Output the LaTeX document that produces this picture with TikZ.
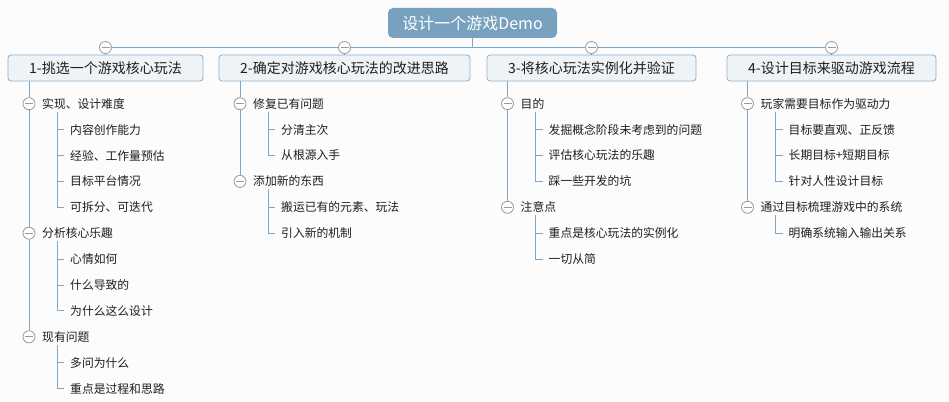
\documentclass[tikz,border=0pt]{standalone}
\usepackage{fontspec}
\newfontfamily\cjk{Noto Sans CJK SC}
\usetikzlibrary{calc}
\definecolor{bgc}{HTML}{FCFCFC}
\definecolor{rootc}{HTML}{78A1C0}
\definecolor{boxf}{HTML}{EEF3F8}
\definecolor{boxd}{HTML}{8EAFCB}
\definecolor{linec}{HTML}{7EA7C8}
\definecolor{btnc}{HTML}{9A9A9A}
\definecolor{txt}{HTML}{1E1E1E}
\newcommand\mmtick[1]{\draw[conn] ([xshift=-13]#1.west) -- ([xshift=-6]#1.west);}
\begin{document}
\begin{tikzpicture}[x=1pt,y=-1pt,
  conn/.style={draw=linec, line width=0.9pt},
  rootbox/.style={fill=rootc, rounded corners=5pt, minimum width=169, minimum height=30, inner sep=0, text=white, font=\cjk\fontsize{16}{18}\selectfont},
  topic/.style={fill=boxf, draw=boxd, line width=0.8pt, rounded corners=3pt, minimum height=26, inner sep=0, text=txt, font=\cjk\fontsize{14}{16}\selectfont},
  btn/.style={circle, draw=btnc, fill=white, line width=0.8pt, minimum size=12, inner sep=0,
    path picture={\draw[btnc, line width=0.8pt] ([xshift=-4]path picture bounding box.center) -- ([xshift=4]path picture bounding box.center);}},
  lvl/.style={anchor=west, inner sep=0, text=txt, font=\cjk\fontsize{11.8}{14}\selectfont},
  leaf/.style={anchor=west, inner sep=0, text=txt, font=\cjk\fontsize{11.8}{14}\selectfont}]
\useasboundingbox (0,0) rectangle (949,401);
\fill[bgc] (0,0) rectangle (949,401);

% root and main topics
\node[rootbox] (root) at (472.5,23) {设计一个游戏Demo};
\node[topic, minimum width=195] (b1) at (105.5,68) {1-挑选一个游戏核心玩法};
\node[topic, minimum width=251] (b2) at (344.5,68) {2-确定对游戏核心玩法的改进思路};
\node[topic, minimum width=209] (b3) at (591.5,68) {3-将核心玩法实例化并验证};
\node[topic, minimum width=209] (b4) at (831.5,68) {4-设计目标来驱动游戏流程};

\node[btn] (k1) at (105.5,47.5) {};
\node[btn] (k2) at (344.5,47.5) {};
\node[btn] (k3) at (591.5,47.5) {};
\node[btn] (k4) at (831.5,47.5) {};

\draw[conn] (root.south) -- (root.south |- k1);
\draw[conn] (k1.east) -- (k2.west);
\draw[conn] (k2.east) -- (k3.west);
\draw[conn] (k3.east) -- (k4.west);
\draw[conn] (k1.south) -- (b1.north);
\draw[conn] (k2.south) -- (b2.north);
\draw[conn] (k3.south) -- (b3.north);
\draw[conn] (k4.south) -- (b4.north);

% ---------- column 1
\node[btn] (m1a) at (29,103.7) {};
\node[lvl] (t1a) at (42,103.7) {实现、设计难度};
\node[leaf] (l1a1) at (70,129.6) {内容创作能力};
\node[leaf] (l1a2) at (70,155.5) {经验、工作量预估};
\node[leaf] (l1a3) at (70,181.4) {目标平台情况};
\node[leaf] (l1a4) at (70,207.3) {可拆分、可迭代};
\node[btn] (m1b) at (29,233.2) {};
\node[lvl] (t1b) at (42,233.2) {分析核心乐趣};
\node[leaf] (l1b1) at (70,259.1) {心情如何};
\node[leaf] (l1b2) at (70,285.0) {什么导致的};
\node[leaf] (l1b3) at (70,310.9) {为什么这么设计};
\node[btn] (m1c) at (29,336.8) {};
\node[lvl] (t1c) at (42,336.8) {现有问题};
\node[leaf] (l1c1) at (70,362.7) {多问为什么};
\node[leaf] (l1c2) at (70,388.6) {重点是过程和思路};

\draw[conn] (b1.south -| m1a) -- (m1a.north);
\draw[conn] (m1a.south) -- (m1b.north);
\draw[conn] (m1b.south) -- (m1c.north);
\draw[conn] ($(m1a)+(28,8)$) |- ([xshift=-6]l1a4.west);
\mmtick{l1a1}\mmtick{l1a2}\mmtick{l1a3}
\draw[conn] ($(m1b)+(28,8)$) |- ([xshift=-6]l1b3.west);
\mmtick{l1b1}\mmtick{l1b2}
\draw[conn] ($(m1c)+(28,8)$) |- ([xshift=-6]l1c2.west);
\mmtick{l1c1}

% ---------- column 2
\node[btn] (m2a) at (240,103.7) {};
\node[lvl] (t2a) at (253,103.7) {修复已有问题};
\node[leaf] (l2a1) at (281,129.6) {分清主次};
\node[leaf] (l2a2) at (281,155.5) {从根源入手};
\node[btn] (m2b) at (240,181.4) {};
\node[lvl] (t2b) at (253,181.4) {添加新的东西};
\node[leaf] (l2b1) at (281,207.3) {搬运已有的元素、玩法};
\node[leaf] (l2b2) at (281,233.2) {引入新的机制};

\draw[conn] (b2.south -| m2a) -- (m2a.north);
\draw[conn] (m2a.south) -- (m2b.north);
\draw[conn] ($(m2a)+(28,8)$) |- ([xshift=-6]l2a2.west);
\mmtick{l2a1}
\draw[conn] ($(m2b)+(28,8)$) |- ([xshift=-6]l2b2.west);
\mmtick{l2b1}

% ---------- column 3
\node[btn] (m3a) at (507.5,103.7) {};
\node[lvl] (t3a) at (520.5,103.7) {目的};
\node[leaf] (l3a1) at (548.5,129.6) {发掘概念阶段未考虑到的问题};
\node[leaf] (l3a2) at (548.5,155.5) {评估核心玩法的乐趣};
\node[leaf] (l3a3) at (548.5,181.4) {踩一些开发的坑};
\node[btn] (m3b) at (507.5,207.3) {};
\node[lvl] (t3b) at (520.5,207.3) {注意点};
\node[leaf] (l3b1) at (548.5,233.2) {重点是核心玩法的实例化};
\node[leaf] (l3b2) at (548.5,259.1) {一切从简};

\draw[conn] (b3.south -| m3a) -- (m3a.north);
\draw[conn] (m3a.south) -- (m3b.north);
\draw[conn] ($(m3a)+(28,8)$) |- ([xshift=-6]l3a3.west);
\mmtick{l3a1}\mmtick{l3a2}
\draw[conn] ($(m3b)+(28,8)$) |- ([xshift=-6]l3b2.west);
\mmtick{l3b1}

% ---------- column 4
\node[btn] (m4a) at (747.5,103.7) {};
\node[lvl] (t4a) at (760.5,103.7) {玩家需要目标作为驱动力};
\node[leaf] (l4a1) at (788.5,129.6) {目标要直观、正反馈};
\node[leaf] (l4a2) at (788.5,155.5) {长期目标+短期目标};
\node[leaf] (l4a3) at (788.5,181.4) {针对人性设计目标};
\node[btn] (m4b) at (747.5,207.3) {};
\node[lvl] (t4b) at (760.5,207.3) {通过目标梳理游戏中的系统};
\node[leaf] (l4b1) at (788.5,233.2) {明确系统输入输出关系};

\draw[conn] (b4.south -| m4a) -- (m4a.north);
\draw[conn] (m4a.south) -- (m4b.north);
\draw[conn] ($(m4a)+(28,8)$) |- ([xshift=-6]l4a3.west);
\mmtick{l4a1}\mmtick{l4a2}
\draw[conn] ($(m4b)+(28,8)$) |- ([xshift=-6]l4b1.west);
\end{tikzpicture}
\end{document}
